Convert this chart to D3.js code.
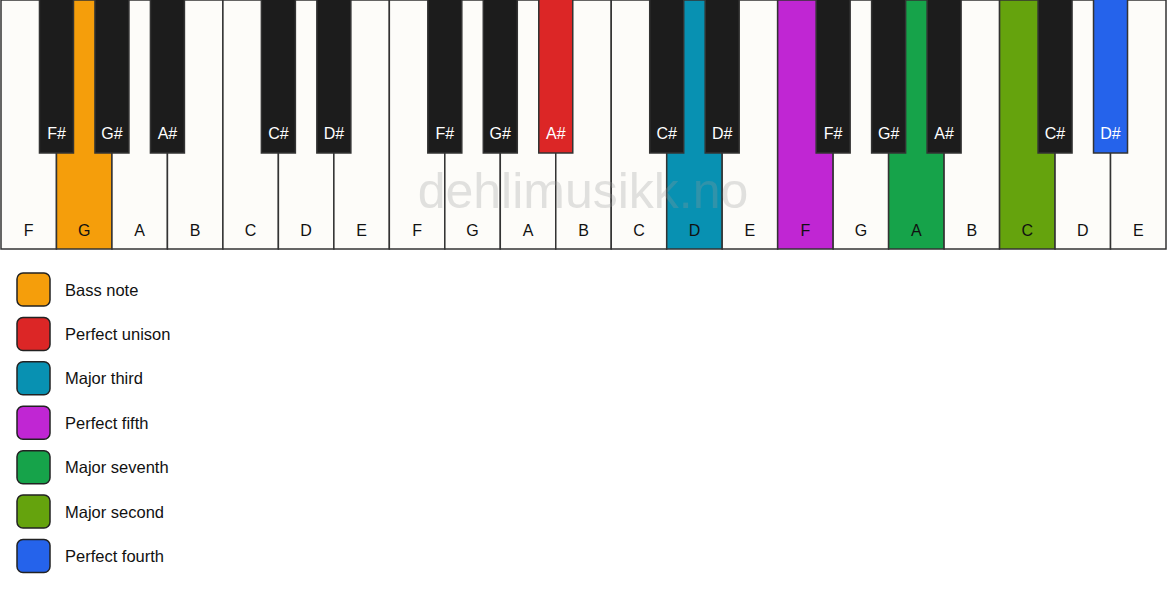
<!DOCTYPE html>
<html><head><meta charset="utf-8">
<script src="https://cdn.jsdelivr.net/npm/d3@7"></script>
<style>html,body{margin:0;padding:0;background:#fff;}svg{display:block;font-family:"Liberation Sans",Arial,sans-serif;}</style>
</head><body>
<script>
const whiteNotes = ["F","G","A","B","C","D","E","F","G","A","B","C","D","E","F","G","A","B","C","D","E"];
const blackAfter = {F:"F#",G:"G#",A:"A#",C:"C#",D:"D#"};
// highlighted keys: [key index, legend index]
const highlightWhite = [[1,0],[12,2],[14,3],[16,4],[18,5]];
const highlightBlack = [[7,1],[14,6]]; // index into black key list
const legendLabels = ["Bass note","Perfect unison","Major third","Perfect fifth","Major seventh","Major second","Perfect fourth"];
const legendColors = ["#f59e0b","#dc2626","#0891b2","#c026d3","#16a34a","#65a30d","#2563eb"];

const W = 1167, H = 594;
const svg = d3.select("body").append("svg").attr("width", W).attr("height", H);
const x = d3.scaleBand().domain(d3.range(whiteNotes.length)).range([1, 1166]);
const kbTop = 0, kbBottom = 249, blackH = 153, blackW = 34;

const wColor = new Map(highlightWhite.map(d => [d[0], legendColors[d[1]]]));
svg.append("g").selectAll("rect").data(whiteNotes).join("rect")
  .attr("x", (d,i) => x(i)).attr("y", kbTop)
  .attr("width", x.bandwidth()).attr("height", kbBottom - kbTop)
  .attr("fill", (d,i) => wColor.get(i) || "#fdfcf9")
  .attr("stroke", "#333").attr("stroke-width", 1.5);

svg.append("g").selectAll("text").data(whiteNotes).join("text")
  .attr("x", (d,i) => x(i) + x.bandwidth()/2).attr("y", 236)
  .attr("text-anchor", "middle").attr("font-size", 16).attr("fill", "#111")
  .text(d => d);

// watermark
svg.append("text").attr("x", 583).attr("y", 208).attr("text-anchor", "middle")
  .attr("font-size", 50).attr("fill", "#999").attr("opacity", 0.28).text("dehlimusikk.no");

const blacks = [];
whiteNotes.forEach((n,i) => { if (i < whiteNotes.length - 1 && blackAfter[n]) blacks.push({name: blackAfter[n], b: i + 1}); });
const bColor = new Map(highlightBlack.map(d => [d[0], legendColors[d[1]]]));
const bg = svg.append("g");
bg.selectAll("rect").data(blacks).join("rect")
  .attr("x", d => x(d.b) - blackW/2).attr("y", kbTop - 1)
  .attr("width", blackW).attr("height", blackH + 1)
  .attr("fill", (d,i) => bColor.get(i) || "#1c1c1c")
  .attr("stroke", "#333").attr("stroke-width", 1.5);
bg.selectAll("text").data(blacks).join("text")
  .attr("x", d => x(d.b)).attr("y", 139)
  .attr("text-anchor", "middle").attr("font-size", 16).attr("fill", "#fff")
  .text(d => d.name);

const ly = d3.scaleLinear().domain([0, 6]).range([273, 539.5]);
const lg = svg.append("g").selectAll("g").data(legendLabels).join("g")
  .attr("transform", (d,i) => `translate(0,${ly(i)})`);
lg.append("rect").attr("x", 17).attr("y", 0).attr("width", 33).attr("height", 33)
  .attr("rx", 6).attr("fill", (d,i) => legendColors[i]).attr("stroke", "#222").attr("stroke-width", 1.5);
lg.append("text").attr("x", 65).attr("y", 22.5).attr("font-size", 16.5).attr("fill", "#111").text(d => d);
</script>
</body></html>
